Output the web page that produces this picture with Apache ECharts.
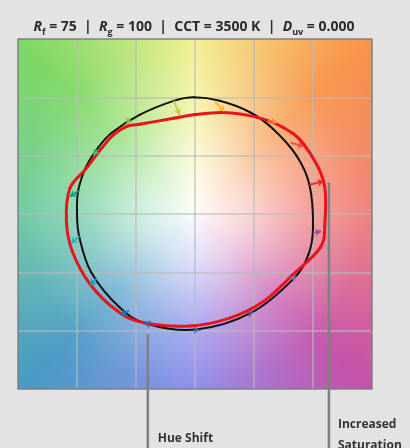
<!DOCTYPE html>
<html>
<head>
<meta charset="utf-8">
<script src="https://cdn.jsdelivr.net/npm/echarts@6/dist/echarts.min.js"></script>
<style>
  html, body { margin: 0; padding: 0; background: #e3e3e3; }
  #chart { width: 410px; height: 448px; }
</style>
</head>
<body>
<div id="chart"></div>
<script>
// reference gamut (black)
var refPoints = [
  [0.97, 0.25], [0.86, 0.50], [0.66, 0.73], [0.47, 0.87], [0.21, 0.97],
  [-0.01, 1.00], [-0.18, 0.97], [-0.47, 0.85], [-0.70, 0.70], [-0.82, 0.57],
  [-0.92, 0.41], [-0.99, 0.20], [-1.00, 0.00], [-0.98, -0.20], [-0.88, -0.50],
  [-0.64, -0.80], [-0.41, -0.94], [0.01, -0.99], [0.47, -0.85], [0.83, -0.56],
  [0.96, -0.35], [1.00, -0.12]
];
// test source gamut (red)
var testPoints = [
  [1.09, 0.28], [0.92, 0.60], [0.75, 0.74], [0.52, 0.83], [0.24, 0.87],
  [-0.01, 0.85], [-0.18, 0.82], [-0.47, 0.77], [-0.58, 0.75], [-0.69, 0.68],
  [-0.81, 0.54], [-0.93, 0.38], [-1.06, 0.22], [-1.09, -0.06], [-1.04, -0.32],
  [-0.89, -0.60], [-0.66, -0.83], [-0.44, -0.93], [-0.04, -0.96], [0.30, -0.89],
  [0.58, -0.75], [0.83, -0.52], [1.06, -0.29], [1.10, -0.09]
];
// hue bin shift arrows
var arrowFrom = [
  [0.97, 0.25], [0.81, 0.61], [0.62, 0.80], [0.17, 0.96], [-0.18, 0.97], [-0.55, 0.82],
  [-0.83, 0.55], [-0.98, 0.20], [-0.98, -0.19], [-0.83, -0.55], [-0.56, -0.83], [-0.40, -0.94],
  [0.01, -0.99], [0.47, -0.85], [0.83, -0.55], [1.00, -0.16]
];
var arrowTo = [
  [1.09, 0.28], [0.92, 0.58], [0.69, 0.78], [0.25, 0.88], [-0.13, 0.85], [-0.58, 0.77],
  [-0.86, 0.50], [-1.06, 0.15], [-1.05, -0.25], [-0.89, -0.61], [-0.63, -0.86], [-0.43, -0.93],
  [0.00, -0.97], [0.49, -0.84], [0.85, -0.53], [1.07, -0.15]
];
var binColors = ['#E62828', '#E74B4B', '#FB812E', '#FFB529', '#CBCA46', '#7EB94C', '#41C06D', '#009C7C',
  '#16BCB0', '#00A4BF', '#0085C3', '#3B62AA', '#4568AE', '#6A4E85', '#9D69A1', '#A74F81'];
// annotation anchors (data coords of the line tops)
var hueShiftAt = [-0.40, -1.03];
var saturationAt = [1.135, 0.27];

var gridBox = { left: 18, top: 39, width: 354, height: 350 };

// hue-wheel background picture
function makeBackground(w, h) {
  var c = document.createElement('canvas');
  c.width = w; c.height = h;
  var ctx = c.getContext('2d');
  var g = ctx.createConicGradient(0, w / 2, h / 2);
  g.addColorStop(0.000, '#f07e7a');
  g.addColorStop(0.125, '#c452aa');
  g.addColorStop(0.250, '#8c8aec');
  g.addColorStop(0.375, '#4a9ac4');
  g.addColorStop(0.500, '#6acaa0');
  g.addColorStop(0.625, '#80d866');
  g.addColorStop(0.750, '#f2f08c');
  g.addColorStop(0.875, '#f8944a');
  g.addColorStop(1.000, '#f07e7a');
  ctx.fillStyle = g;
  ctx.fillRect(0, 0, w, h);
  var r = ctx.createRadialGradient(w / 2, h / 2, 0, w / 2, h / 2, w * 0.6);
  r.addColorStop(0, 'rgba(255,255,255,0.97)');
  r.addColorStop(0.22, 'rgba(255,255,255,0.72)');
  r.addColorStop(0.5, 'rgba(255,255,255,0.32)');
  r.addColorStop(0.8, 'rgba(255,255,255,0.05)');
  r.addColorStop(1, 'rgba(255,255,255,0)');
  ctx.fillStyle = r;
  ctx.fillRect(0, 0, w, h);
  return c;
}

// closed smooth loop: each data item draws its own segment (Catmull-Rom)
function loopRenderer(pts, color, width) {
  return function (params, api) {
    var n = pts.length, i = params.dataIndex;
    var p0 = api.coord(pts[(i - 1 + n) % n]);
    var p1 = api.coord(pts[i]);
    var p2 = api.coord(pts[(i + 1) % n]);
    var p3 = api.coord(pts[(i + 2) % n]);
    return {
      type: 'bezierCurve',
      shape: {
        x1: p1[0], y1: p1[1], x2: p2[0], y2: p2[1],
        cpx1: p1[0] + (p2[0] - p0[0]) / 6, cpy1: p1[1] + (p2[1] - p0[1]) / 6,
        cpx2: p2[0] - (p3[0] - p1[0]) / 6, cpy2: p2[1] - (p3[1] - p1[1]) / 6
      },
      style: { fill: 'none', stroke: color, lineWidth: width, lineCap: 'round' }
    };
  };
}

var myChart = echarts.init(document.getElementById('chart'));

var arrowData = arrowFrom.map(function (p, i) {
  return { coords: [p, arrowTo[i]], lineStyle: { color: binColors[i] } };
});

myChart.setOption({
  backgroundColor: '#e3e3e3',
  animation: false,
  title: {
    text: '{i|R}{s|f}{t| = 75  |  }{i|R}{s|g}{t| = 100  |  CCT = 3500 K  |  }{i|D}{s|uv}{t| = 0.000}',
    left: 189,
    textAlign: 'center',
    top: 13,
    textStyle: {
      rich: {
        t: { fontFamily: 'Open Sans', fontWeight: 'bold', fontSize: 14, color: '#2a2a2a', lineHeight: 19 },
        i: { fontFamily: 'Open Sans', fontWeight: 'bold', fontStyle: 'italic', fontSize: 14, color: '#2a2a2a', lineHeight: 19 },
        s: { fontFamily: 'Open Sans', fontWeight: 'bold', fontSize: 9, color: '#2a2a2a', lineHeight: 19, verticalAlign: 'bottom', padding: [6, 0, 0, 0] }
      }
    }
  },
  grid: gridBox,
  xAxis: {
    type: 'value', min: -1.5, max: 1.5, interval: 0.5,
    axisLine: { show: false }, axisTick: { show: false }, axisLabel: { show: false },
    splitLine: { lineStyle: { color: 'rgba(185,185,185,0.75)', width: 1.5 } }
  },
  yAxis: {
    type: 'value', min: -1.5, max: 1.5, interval: 0.5,
    axisLine: { show: false }, axisTick: { show: false }, axisLabel: { show: false },
    splitLine: { lineStyle: { color: 'rgba(185,185,185,0.75)', width: 1.5 } }
  },
  series: [
    {
      name: 'Reference',
      type: 'custom',
      data: refPoints,
      renderItem: loopRenderer(refPoints, '#111', 2),
      z: 3
    },
    {
      name: 'Test',
      type: 'custom',
      data: testPoints,
      renderItem: loopRenderer(testPoints, '#e8141c', 3),
      z: 4
    },
    {
      name: 'Shift',
      type: 'lines',
      coordinateSystem: 'cartesian2d',
      data: arrowData,
      symbol: ['none', 'arrow'],
      symbolSize: 6,
      lineStyle: { width: 2, opacity: 0.9 },
      z: 5
    }
  ]
});

// background, border and annotation callouts
var hs = myChart.convertToPixel({ gridIndex: 0 }, hueShiftAt);
var sat = myChart.convertToPixel({ gridIndex: 0 }, saturationAt);
myChart.setOption({
  graphic: [
    {
      type: 'image', z: -1,
      style: { image: makeBackground(gridBox.width, gridBox.height), x: gridBox.left, y: gridBox.top, width: gridBox.width, height: gridBox.height }
    },
    {
      type: 'rect', z: 10, silent: true,
      shape: { x: gridBox.left, y: gridBox.top, width: gridBox.width, height: gridBox.height },
      style: { fill: 'none', stroke: 'rgba(70,70,80,0.5)', lineWidth: 1.5 }
    },
    {
      type: 'line', z: 10,
      shape: { x1: hs[0], y1: hs[1], x2: hs[0], y2: 448 },
      style: { stroke: '#808080', lineWidth: 2.5 }
    },
    {
      type: 'line', z: 10,
      shape: { x1: sat[0], y1: sat[1], x2: sat[0], y2: 448 },
      style: { stroke: '#808080', lineWidth: 2.5 }
    },
    {
      type: 'text', z: 10,
      style: { text: 'Hue Shift', x: hs[0] + 10, y: 439, fontFamily: 'Open Sans', fontWeight: 'bold', fontSize: 12, fill: '#333', verticalAlign: 'middle' }
    },
    {
      type: 'text', z: 10,
      style: { text: 'Increased\nSaturation', x: sat[0] + 9, y: 414, fontFamily: 'Open Sans', fontWeight: 'bold', fontSize: 12, lineHeight: 21, fill: '#333', verticalAlign: 'top' }
    }
  ]
});
</script>
</body>
</html>
